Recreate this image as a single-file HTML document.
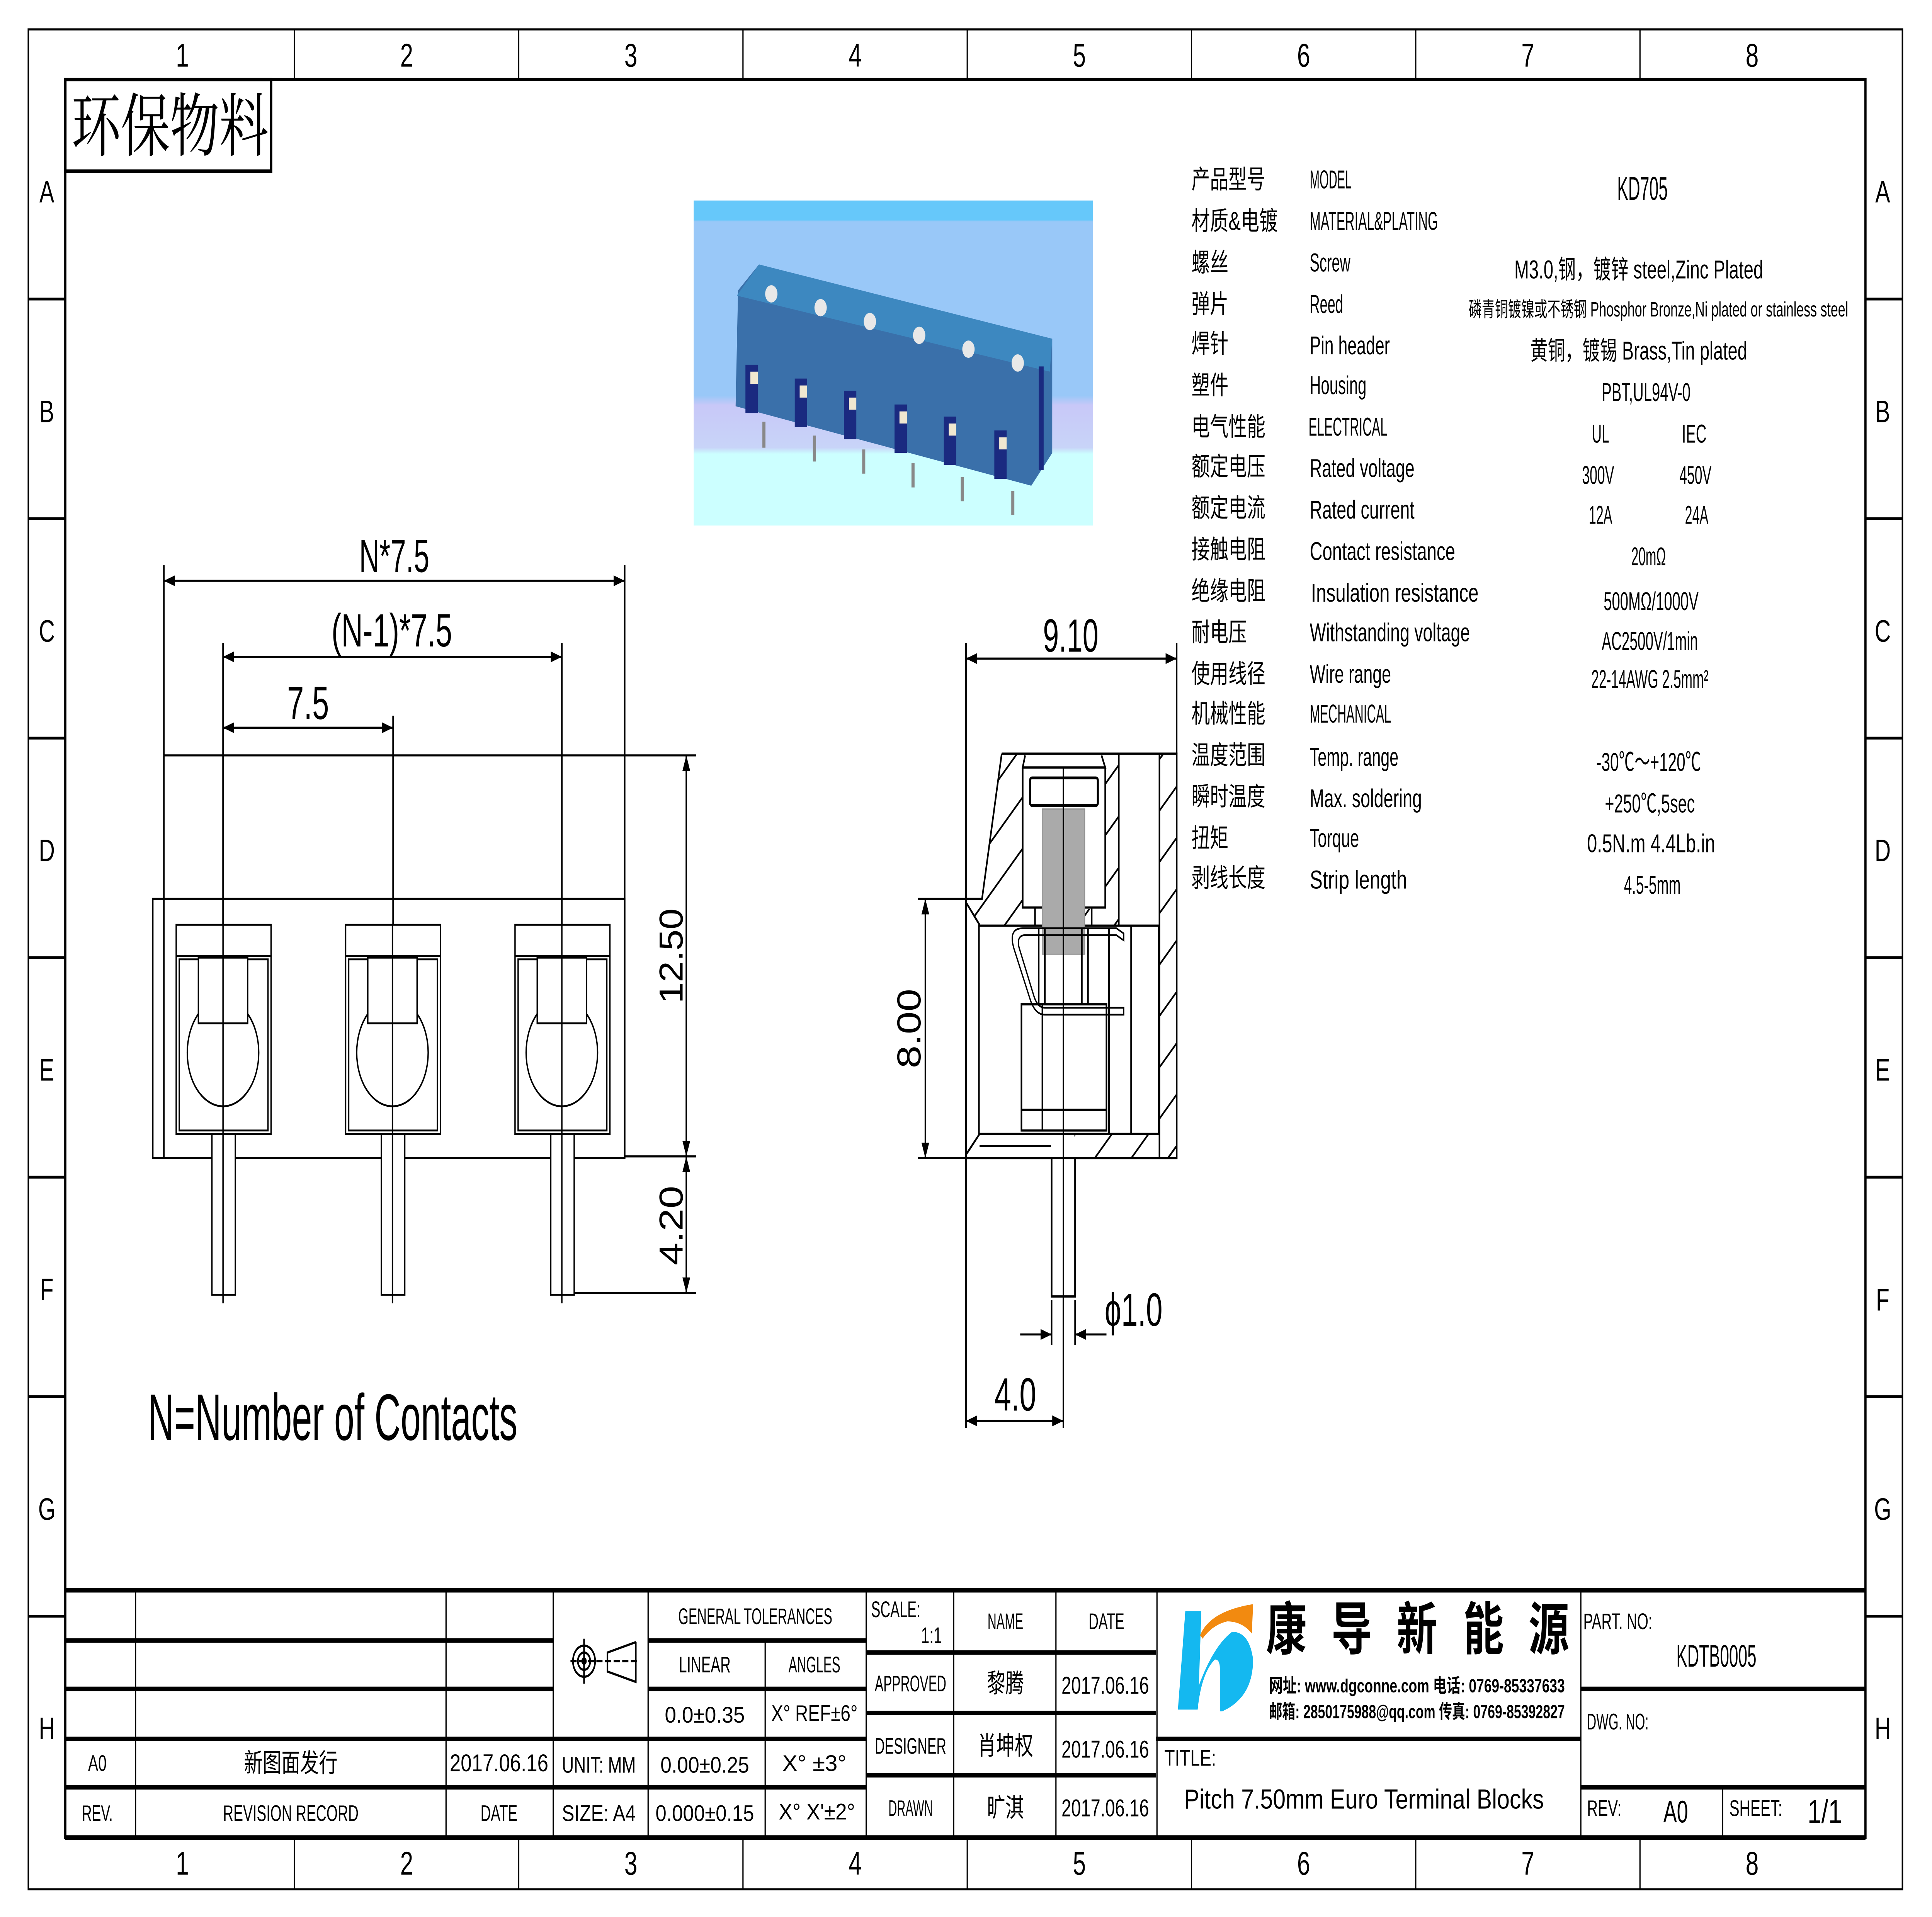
<!DOCTYPE html>
<html><head><meta charset="utf-8">
<style>
html,body{margin:0;padding:0;background:#fff;width:100%;height:100%;overflow:hidden;}
svg{display:block;position:fixed;left:0;top:0;width:100vw;height:100vh;}
text{font-family:"Liberation Sans","Noto Sans CJK SC",sans-serif;fill:#000;}
.s{font-family:"Liberation Serif","Noto Serif CJK SC",serif;}
.c{font-family:"Liberation Sans Narrow","Liberation Sans","Noto Sans CJK SC",sans-serif;}
</style></head>
<body>
<svg viewBox="0 0 1568 1109" preserveAspectRatio="none" xmlns="http://www.w3.org/2000/svg">
<defs>
<pattern id="h" patternUnits="userSpaceOnUse" width="21" height="21" patternTransform="rotate(-45)">
<line x1="0" y1="10" x2="21" y2="10" stroke="#000" stroke-width="1.2"/>
</pattern>
<marker id="a" viewBox="0 0 10 10" refX="10" refY="5" markerWidth="9" markerHeight="9" markerUnits="userSpaceOnUse" orient="auto-start-reverse">
<path d="M0,1.5 L10,5 L0,8.5 z" fill="#000"/>
</marker>
<linearGradient id="bg" x1="0" y1="0" x2="0" y2="1">
<stop offset="0" stop-color="#66c8fa"/><stop offset="0.06" stop-color="#66c8fa"/>
<stop offset="0.065" stop-color="#99c8f8"/><stop offset="0.6" stop-color="#99c8f8"/>
<stop offset="0.63" stop-color="#c8c8f8"/><stop offset="0.76" stop-color="#c8d4f8"/>
<stop offset="0.78" stop-color="#ccffff"/><stop offset="1" stop-color="#ccffff"/>
</linearGradient>
</defs>
<rect width="1568" height="1109" fill="#fff"/>

<!-- borders -->
<rect x="23" y="17" width="1521" height="1076" fill="none" stroke="#000" stroke-width="1.2"/>
<rect x="53" y="46" width="1461" height="1017" fill="none" stroke="#000" stroke-width="1.8"/>
<g stroke="#000" stroke-width="1">
<line x1="239" y1="17" x2="239" y2="46"/><line x1="421" y1="17" x2="421" y2="46"/><line x1="603" y1="17" x2="603" y2="46"/><line x1="785" y1="17" x2="785" y2="46"/><line x1="967" y1="17" x2="967" y2="46"/><line x1="1149" y1="17" x2="1149" y2="46"/><line x1="1331" y1="17" x2="1331" y2="46"/>
<line x1="239" y1="1063" x2="239" y2="1093"/><line x1="421" y1="1063" x2="421" y2="1093"/><line x1="603" y1="1063" x2="603" y2="1093"/><line x1="785" y1="1063" x2="785" y2="1093"/><line x1="967" y1="1063" x2="967" y2="1093"/><line x1="1149" y1="1063" x2="1149" y2="1093"/><line x1="1331" y1="1063" x2="1331" y2="1093"/>
</g>
<g stroke="#000" stroke-width="1.6">
<line x1="23" y1="173" x2="53" y2="173"/><line x1="23" y1="300" x2="53" y2="300"/><line x1="23" y1="427" x2="53" y2="427"/><line x1="23" y1="554" x2="53" y2="554"/><line x1="23" y1="681" x2="53" y2="681"/><line x1="23" y1="808" x2="53" y2="808"/><line x1="23" y1="935" x2="53" y2="935"/>
<line x1="1514" y1="173" x2="1544" y2="173"/><line x1="1514" y1="300" x2="1544" y2="300"/><line x1="1514" y1="427" x2="1544" y2="427"/><line x1="1514" y1="554" x2="1544" y2="554"/><line x1="1514" y1="681" x2="1544" y2="681"/><line x1="1514" y1="808" x2="1544" y2="808"/><line x1="1514" y1="935" x2="1544" y2="935"/>
</g>
<g font-size="19" text-anchor="middle" dominant-baseline="central">
<text x="148" y="32">1</text><text x="330" y="32">2</text><text x="512" y="32">3</text><text x="694" y="32">4</text><text x="876" y="32">5</text><text x="1058" y="32">6</text><text x="1240" y="32">7</text><text x="1422" y="32">8</text>
<text x="148" y="1078">1</text><text x="330" y="1078">2</text><text x="512" y="1078">3</text><text x="694" y="1078">4</text><text x="876" y="1078">5</text><text x="1058" y="1078">6</text><text x="1240" y="1078">7</text><text x="1422" y="1078">8</text>
</g>
<g font-size="18" text-anchor="middle" dominant-baseline="central">
<text x="38" y="111">A</text><text x="38" y="238">B</text><text x="38" y="365">C</text><text x="38" y="492">D</text><text x="38" y="619">E</text><text x="38" y="746">F</text><text x="38" y="873">G</text><text x="38" y="1000">H</text>
<text x="1528" y="111">A</text><text x="1528" y="238">B</text><text x="1528" y="365">C</text><text x="1528" y="492">D</text><text x="1528" y="619">E</text><text x="1528" y="752">F</text><text x="1528" y="873">G</text><text x="1528" y="1000">H</text>
</g>

<!-- 环保物料 -->
<rect x="53" y="46" width="167" height="53" fill="none" stroke="#000" stroke-width="2"/>
<text class="s" x="58" y="87" font-size="40" textLength="160" lengthAdjust="spacingAndGlyphs">环保物料</text>

<!-- photo -->
<rect x="563" y="116" width="324" height="188" fill="url(#bg)"/>
<polygon points="616,153 854,196 854,262 837,281 597,235 599,168" fill="#3a70aa"/>
<polygon points="616,153 854,196 852,215 598,171" fill="#3d88c0"/>
<g fill="#e8e8e8">
<circle cx="626" cy="170" r="5"/><circle cx="666" cy="178" r="5"/><circle cx="706" cy="186" r="5"/><circle cx="746" cy="194" r="5"/><circle cx="786" cy="202" r="5"/><circle cx="826" cy="210" r="5"/>
</g>
<g fill="#1a2a80">
<rect x="605" y="211" width="10" height="28"/><rect x="645" y="219" width="10" height="28"/><rect x="685" y="226" width="10" height="28"/><rect x="726" y="234" width="10" height="28"/><rect x="766" y="241" width="10" height="28"/><rect x="807" y="249" width="10" height="28"/>
<rect x="843" y="212" width="4" height="60"/>
</g>
<g fill="#f0e8d0">
<rect x="609" y="215" width="6" height="7"/><rect x="649" y="223" width="6" height="7"/><rect x="689" y="230" width="6" height="7"/><rect x="730" y="238" width="6" height="7"/><rect x="770" y="245" width="6" height="7"/><rect x="811" y="253" width="6" height="7"/>
</g>
<g stroke="#888" stroke-width="2.5">
<line x1="620" y1="244" x2="620" y2="259"/><line x1="661" y1="252" x2="661" y2="267"/><line x1="701" y1="260" x2="701" y2="274"/><line x1="741" y1="268" x2="741" y2="282"/><line x1="781" y1="276" x2="781" y2="290"/><line x1="822" y1="284" x2="822" y2="298"/>
</g>

<!-- spec table -->
<g font-size="15" dominant-baseline="central">
<text x="967" y="104">产品型号</text><text x="967" y="128">材质&amp;电镀</text><text x="967" y="152">螺丝</text><text x="967" y="176">弹片</text><text x="967" y="199">焊针</text><text x="967" y="223">塑件</text><text x="967" y="247">电气性能</text><text x="967" y="270">额定电压</text><text x="967" y="294">额定电流</text><text x="967" y="318">接触电阻</text><text x="967" y="342">绝缘电阻</text><text x="967" y="366">耐电压</text><text x="967" y="390">使用线径</text><text x="967" y="413">机械性能</text><text x="967" y="437">温度范围</text><text x="967" y="461">瞬时温度</text><text x="967" y="485">扭矩</text><text x="967" y="508">剥线长度</text>
</g>
<g class="c" font-size="15" dominant-baseline="central">
<text x="1063" y="104" textLength="34" lengthAdjust="spacingAndGlyphs">MODEL</text>
<text x="1063" y="128" textLength="104" lengthAdjust="spacingAndGlyphs">MATERIAL&amp;PLATING</text>
<text x="1063" y="152" textLength="33" lengthAdjust="spacingAndGlyphs">Screw</text>
<text x="1063" y="176" textLength="27" lengthAdjust="spacingAndGlyphs">Reed</text>
<text x="1063" y="200" textLength="65" lengthAdjust="spacingAndGlyphs">Pin header</text>
<text x="1063" y="223" textLength="46" lengthAdjust="spacingAndGlyphs">Housing</text>
<text x="1062" y="247" textLength="64" lengthAdjust="spacingAndGlyphs">ELECTRICAL</text>
<text x="1063" y="271" textLength="85" lengthAdjust="spacingAndGlyphs">Rated voltage</text>
<text x="1063" y="295" textLength="85" lengthAdjust="spacingAndGlyphs">Rated current</text>
<text x="1063" y="319" textLength="118" lengthAdjust="spacingAndGlyphs">Contact resistance</text>
<text x="1064" y="343" textLength="136" lengthAdjust="spacingAndGlyphs">Insulation resistance</text>
<text x="1063" y="366" textLength="130" lengthAdjust="spacingAndGlyphs">Withstanding voltage</text>
<text x="1063" y="390" textLength="66" lengthAdjust="spacingAndGlyphs">Wire range</text>
<text x="1063" y="413" textLength="66" lengthAdjust="spacingAndGlyphs">MECHANICAL</text>
<text x="1063" y="438" textLength="72" lengthAdjust="spacingAndGlyphs">Temp.  range</text>
<text x="1063" y="462" textLength="91" lengthAdjust="spacingAndGlyphs">Max.  soldering</text>
<text x="1063" y="485" textLength="40" lengthAdjust="spacingAndGlyphs">Torque</text>
<text x="1063" y="509" textLength="79" lengthAdjust="spacingAndGlyphs">Strip length</text>
</g>
<g class="c" font-size="15" dominant-baseline="central" text-anchor="middle">
<text x="1333" y="109" font-size="19" textLength="41" lengthAdjust="spacingAndGlyphs">KD705</text>
<text x="1330" y="156" textLength="202" lengthAdjust="spacingAndGlyphs">M3.0,钢，镀锌 steel,Zinc Plated</text>
<text x="1346" y="179" font-size="12" textLength="308" lengthAdjust="spacingAndGlyphs">磷青铜镀镍或不锈钢 Phosphor Bronze,Ni plated or stainless steel</text>
<text x="1330" y="203" textLength="176" lengthAdjust="spacingAndGlyphs">黄铜，镀锡 Brass,Tin plated</text>
<text x="1336" y="227" textLength="72" lengthAdjust="spacingAndGlyphs">PBT,UL94V-0</text>
<text x="1299" y="251" textLength="14" lengthAdjust="spacingAndGlyphs">UL</text>
<text x="1375" y="251" textLength="20" lengthAdjust="spacingAndGlyphs">IEC</text>
<text x="1297" y="275" textLength="26" lengthAdjust="spacingAndGlyphs">300V</text>
<text x="1376" y="275" textLength="26" lengthAdjust="spacingAndGlyphs">450V</text>
<text x="1299" y="298" textLength="19" lengthAdjust="spacingAndGlyphs">12A</text>
<text x="1377" y="298" textLength="19" lengthAdjust="spacingAndGlyphs">24A</text>
<text x="1338" y="322" textLength="28" lengthAdjust="spacingAndGlyphs">20mΩ</text>
<text x="1340" y="348" textLength="77" lengthAdjust="spacingAndGlyphs">500MΩ/1000V</text>
<text x="1339" y="371" textLength="78" lengthAdjust="spacingAndGlyphs">AC2500V/1min</text>
<text x="1339" y="393" textLength="95" lengthAdjust="spacingAndGlyphs">22-14AWG 2.5mm²</text>
<text x="1338" y="441" textLength="85" lengthAdjust="spacingAndGlyphs">-30℃～+120℃</text>
<text x="1339" y="465" textLength="73" lengthAdjust="spacingAndGlyphs">+250℃,5sec</text>
<text x="1340" y="488" textLength="104" lengthAdjust="spacingAndGlyphs">0.5N.m  4.4Lb.in</text>
<text x="1341" y="512" textLength="46" lengthAdjust="spacingAndGlyphs">4.5-5mm</text>
</g>

<!-- FRONT VIEW -->
<g stroke="#000" fill="none" stroke-width="1.2">
<line x1="133" y1="327" x2="133" y2="437"/><line x1="507" y1="327" x2="507" y2="437"/>
<line x1="133" y1="336" x2="507" y2="336" marker-start="url(#a)" marker-end="url(#a)"/>
<line x1="181" y1="372" x2="181" y2="535"/><line x1="456" y1="372" x2="456" y2="535"/><line x1="319" y1="414" x2="319" y2="535"/>
<line x1="181" y1="380" x2="456" y2="380" marker-start="url(#a)" marker-end="url(#a)"/>
<line x1="181" y1="421" x2="319" y2="421" marker-start="url(#a)" marker-end="url(#a)"/>
<line x1="507" y1="437" x2="565" y2="437"/><line x1="507" y1="669" x2="565" y2="669"/><line x1="466" y1="748" x2="565" y2="748"/>
<line x1="557" y1="437" x2="557" y2="669" marker-start="url(#a)" marker-end="url(#a)"/>
<line x1="557" y1="669" x2="557" y2="748" marker-start="url(#a)" marker-end="url(#a)"/>
<line x1="133" y1="437" x2="507" y2="437"/>
<line x1="133" y1="437" x2="133" y2="670"/>
<line x1="507" y1="437" x2="507" y2="670"/>
<rect x="124" y="520" width="383" height="150"/>
</g>
<g stroke="#000" fill="#fff" stroke-width="1.1">
<g id="slot">
<rect x="143" y="535" width="77" height="121"/>
<line x1="143" y1="553" x2="220" y2="553"/>
<rect x="145.5" y="555" width="72" height="99"/>
<ellipse cx="181" cy="609" rx="29" ry="31" fill="none"/>
<rect x="161" y="554" width="40" height="38"/>
<rect x="172" y="656" width="19" height="93"/>
<line x1="181" y1="535" x2="181" y2="754"/>
</g>
<use href="#slot" x="137.5"/>
<use href="#slot" x="275"/>
</g>
<g class="s" font-size="27" text-anchor="middle">
<text x="320" y="331" textLength="57" lengthAdjust="spacingAndGlyphs">N*7.5</text>
<text x="318" y="374" textLength="98" lengthAdjust="spacingAndGlyphs">(N-1)*7.5</text>
<text x="250" y="416" textLength="34" lengthAdjust="spacingAndGlyphs">7.5</text>
<text transform="translate(554,553) rotate(-90)" textLength="55" lengthAdjust="spacingAndGlyphs">12.50</text>
<text transform="translate(554,709) rotate(-90)" textLength="46" lengthAdjust="spacingAndGlyphs">4.20</text>
</g>
<text class="c" x="120" y="833" font-size="38" textLength="300" lengthAdjust="spacingAndGlyphs">N=Number of Contacts</text>

<!-- SIDE VIEW -->
<g stroke="#000" fill="none" stroke-width="1.2">
<line x1="784" y1="372" x2="784" y2="520"/><line x1="955" y1="372" x2="955" y2="436"/>
<line x1="784" y1="381" x2="955" y2="381" marker-start="url(#a)" marker-end="url(#a)"/>
<line x1="745" y1="520" x2="784" y2="520"/><line x1="745" y1="670" x2="784" y2="670"/>
<line x1="751" y1="520" x2="751" y2="670" marker-start="url(#a)" marker-end="url(#a)"/>
<line x1="784" y1="670" x2="784" y2="826"/><line x1="863" y1="750" x2="863" y2="826"/>
<line x1="784" y1="822" x2="863" y2="822" marker-start="url(#a)" marker-end="url(#a)"/>
<line x1="853.5" y1="752" x2="853.5" y2="778"/><line x1="872.5" y1="752" x2="872.5" y2="778"/>
<line x1="828" y1="772" x2="853.5" y2="772" marker-end="url(#a)"/>
<line x1="898" y1="772" x2="872.5" y2="772" marker-end="url(#a)"/>
</g>
<g fill="url(#h)" stroke="none">
<polygon points="813,436 832,436 830,444 830,526 843,526 843,535 795,535 784,524 797,520"/>
<polygon points="893,436 908,436 908,535 880,535 880,526 897,526 897,444"/>
<rect x="941" y="436" width="14" height="234"/>
<rect x="872" y="656" width="83" height="14"/>
</g>
<g stroke="#000" fill="none" stroke-width="1.3">
<polyline points="813,436 955,436 955,670 784,670 784,520 797,520 813,436"/>
<line x1="784" y1="522" x2="795" y2="535"/><line x1="784" y1="668" x2="795" y2="656"/>
<rect x="794.5" y="535.5" width="146" height="120.5"/>
<line x1="908" y1="436" x2="908" y2="535"/><line x1="941" y1="436" x2="941" y2="670"/>
<line x1="795" y1="663" x2="853" y2="663"/>
<polyline points="830,444 830,525 897,525 897,444"/>
<polyline points="832,437 830,444 897,444 894,437"/>
<rect x="836" y="450" width="55" height="16" rx="1.5" stroke-width="1.6"/>
<rect x="845.8" y="468" width="34.6" height="84" fill="#aaa" stroke="#888" stroke-width="0.6"/>
<line x1="840" y1="525" x2="840" y2="535"/><line x1="886" y1="525" x2="886" y2="535"/>
<line x1="843" y1="537" x2="843" y2="581"/><line x1="848" y1="537" x2="848" y2="581"/><line x1="878" y1="537" x2="878" y2="581"/><line x1="883" y1="537" x2="883" y2="581"/>
<rect x="829" y="581" width="69" height="73"/>
<line x1="829" y1="642" x2="898" y2="642"/><line x1="846" y1="581" x2="846" y2="654"/>
<line x1="900" y1="537" x2="900" y2="656"/><line x1="918" y1="536" x2="918" y2="656"/>
<path d="M912,540 L906,537 L830,537 Q818,537 823,549 L836,578 Q840,587 848,587 L912,587 L912,583 L848,583 Q842,583 839,576 L827,548 Q825,541 832,541 L906,541 L912,544 z" stroke-width="1"/>
<rect x="853.5" y="670" width="19" height="80" fill="#fff"/>
<line x1="863" y1="444" x2="863" y2="780" stroke-width="1"/>
</g>
<g class="s" font-size="27" text-anchor="middle">
<text x="869" y="377" textLength="45" lengthAdjust="spacingAndGlyphs">9.10</text>
<text transform="translate(747,595) rotate(-90)" textLength="46" lengthAdjust="spacingAndGlyphs">8.00</text>
<text x="920" y="767" textLength="47" lengthAdjust="spacingAndGlyphs">ϕ1.0</text>
<text x="824" y="816" textLength="34" lengthAdjust="spacingAndGlyphs">4.0</text>
</g>

<!-- TITLE BLOCK -->
<g stroke="#000" stroke-width="2.6">
<line x1="53" y1="920" x2="1514" y2="920"/>
<line x1="53" y1="949" x2="449" y2="949"/><line x1="526" y1="949" x2="703" y2="949"/>
<line x1="53" y1="977" x2="449" y2="977"/><line x1="526" y1="977" x2="703" y2="977"/>
<line x1="53" y1="1006" x2="703" y2="1006"/>
<line x1="53" y1="1034" x2="703" y2="1034"/>
<line x1="703" y1="956" x2="938" y2="956"/><line x1="703" y1="991" x2="938" y2="991"/><line x1="703" y1="1027" x2="938" y2="1027"/>
<line x1="938" y1="1006" x2="1283" y2="1006"/>
<line x1="1283" y1="977" x2="1514" y2="977"/><line x1="1283" y1="1034" x2="1514" y2="1034"/>
<line x1="53" y1="1063" x2="1514" y2="1063"/>
</g>
<g stroke="#000" stroke-width="1">
<line x1="110" y1="920" x2="110" y2="1063"/><line x1="362" y1="920" x2="362" y2="1063"/><line x1="449" y1="920" x2="449" y2="1063"/><line x1="526" y1="920" x2="526" y2="1063"/>
<line x1="621" y1="949" x2="621" y2="1063"/><line x1="703" y1="920" x2="703" y2="1063"/><line x1="774" y1="920" x2="774" y2="1063"/><line x1="857" y1="920" x2="857" y2="1063"/><line x1="939" y1="920" x2="939" y2="1063"/><line x1="1283" y1="920" x2="1283" y2="1063"/><line x1="1398" y1="1034" x2="1398" y2="1063"/>
</g>
<g stroke="#000" fill="none" stroke-width="1.3">
<circle cx="474" cy="961" r="9"/><circle cx="474" cy="961" r="5"/><circle cx="474" cy="961" r="1.5"/>
<line x1="474" y1="948" x2="474" y2="974"/><line x1="463" y1="961" x2="518" y2="961" stroke-dasharray="5,2"/>
<polyline points="516,950 493,956 493,967 516,973 516,950"/>
</g>
<g class="c" font-size="13" text-anchor="middle" dominant-baseline="central">
<text x="79" y="1020" textLength="15" lengthAdjust="spacingAndGlyphs">A0</text>
<text x="79" y="1049" textLength="25" lengthAdjust="spacingAndGlyphs">REV.</text>
<text x="236" y="1020" font-size="15" textLength="76" lengthAdjust="spacingAndGlyphs">新图面发行</text>
<text x="236" y="1049" textLength="110" lengthAdjust="spacingAndGlyphs">REVISION RECORD</text>
<text x="405" y="1020" font-size="14" textLength="80" lengthAdjust="spacingAndGlyphs">2017.06.16</text>
<text x="405" y="1049" textLength="30" lengthAdjust="spacingAndGlyphs">DATE</text>
<text x="486" y="1021" textLength="60" lengthAdjust="spacingAndGlyphs">UNIT:  MM</text>
<text x="486" y="1049" textLength="60" lengthAdjust="spacingAndGlyphs">SIZE:  A4</text>
<text x="613" y="935" textLength="125" lengthAdjust="spacingAndGlyphs">GENERAL  TOLERANCES</text>
<text x="572" y="963" textLength="42" lengthAdjust="spacingAndGlyphs">LINEAR</text>
<text x="661" y="963" textLength="42" lengthAdjust="spacingAndGlyphs">ANGLES</text>
<text x="572" y="992" textLength="65" lengthAdjust="spacingAndGlyphs">0.0±0.35</text>
<text x="661" y="991" textLength="70" lengthAdjust="spacingAndGlyphs">X°  REF±6°</text>
<text x="572" y="1021" textLength="72" lengthAdjust="spacingAndGlyphs">0.00±0.25</text>
<text x="661" y="1020" textLength="52" lengthAdjust="spacingAndGlyphs">X°  ±3°</text>
<text x="572" y="1049" textLength="80" lengthAdjust="spacingAndGlyphs">0.000±0.15</text>
<text x="663" y="1048" textLength="62" lengthAdjust="spacingAndGlyphs">X°  X'±2°</text>
<text x="727" y="931" textLength="40" lengthAdjust="spacingAndGlyphs">SCALE:</text>
<text x="756" y="946" textLength="17" lengthAdjust="spacingAndGlyphs">1:1</text>
<text x="816" y="938" textLength="29" lengthAdjust="spacingAndGlyphs">NAME</text>
<text x="898" y="938" textLength="29" lengthAdjust="spacingAndGlyphs">DATE</text>
<text x="739" y="974" textLength="58" lengthAdjust="spacingAndGlyphs">APPROVED</text>
<text x="739" y="1010" textLength="58" lengthAdjust="spacingAndGlyphs">DESIGNER</text>
<text x="739" y="1046" textLength="36" lengthAdjust="spacingAndGlyphs">DRAWN</text>
<text x="816" y="974" font-size="15">黎腾</text>
<text x="816" y="1010" font-size="15">肖坤权</text>
<text x="816" y="1046" font-size="15">旷淇</text>
<text x="897" y="975" font-size="14" textLength="71" lengthAdjust="spacingAndGlyphs">2017.06.16</text>
<text x="897" y="1012" font-size="14" textLength="71" lengthAdjust="spacingAndGlyphs">2017.06.16</text>
<text x="897" y="1046" font-size="14" textLength="71" lengthAdjust="spacingAndGlyphs">2017.06.16</text>
<text x="966" y="1017" textLength="42" lengthAdjust="spacingAndGlyphs">TITLE:</text>
<text x="1107" y="1041" font-size="16" textLength="292" lengthAdjust="spacingAndGlyphs">Pitch  7.50mm  Euro  Terminal  Blocks</text>
<text x="1313" y="938" textLength="56" lengthAdjust="spacingAndGlyphs">PART. NO:</text>
<text x="1393" y="958" font-size="18" textLength="65" lengthAdjust="spacingAndGlyphs">KDTB0005</text>
<text x="1313" y="996" textLength="50" lengthAdjust="spacingAndGlyphs">DWG. NO:</text>
<text x="1302" y="1046" textLength="28" lengthAdjust="spacingAndGlyphs">REV:</text>
<text x="1360" y="1048" font-size="18" textLength="20" lengthAdjust="spacingAndGlyphs">A0</text>
<text x="1425" y="1046" textLength="43" lengthAdjust="spacingAndGlyphs">SHEET:</text>
<text x="1481" y="1048" font-size="19" textLength="28" lengthAdjust="spacingAndGlyphs">1/1</text>
</g>
<path d="M962,932 L975,932 L973,975 Q985,952 1000,944 Q1014,944 1017,960 Q1017,982 992,990 L990,990 L990,965 Q990,960 986,960 Q975,968 972,989 L956,989 z" fill="#14b8f0"/>
<path d="M974,946 Q982,932 1017,928 L1016,945 Q1008,938 996,938 Q984,940 976,948 z" fill="#f28a10"/>
<g font-size="33" text-anchor="middle" dominant-baseline="central" font-weight="bold">
<text x="1044" y="943">康</text><text x="1097" y="943">导</text><text x="1150" y="943">新</text><text x="1204" y="943">能</text><text x="1257" y="943">源</text>
</g>
<text x="1030" y="979" font-size="11" font-weight="bold" textLength="240" lengthAdjust="spacingAndGlyphs">网址: www.dgconne.com   电话: 0769-85337633</text>
<text x="1030" y="994" font-size="11" font-weight="bold" textLength="240" lengthAdjust="spacingAndGlyphs">邮箱: 2850175988@qq.com 传真: 0769-85392827</text>
</svg>
</body></html>
